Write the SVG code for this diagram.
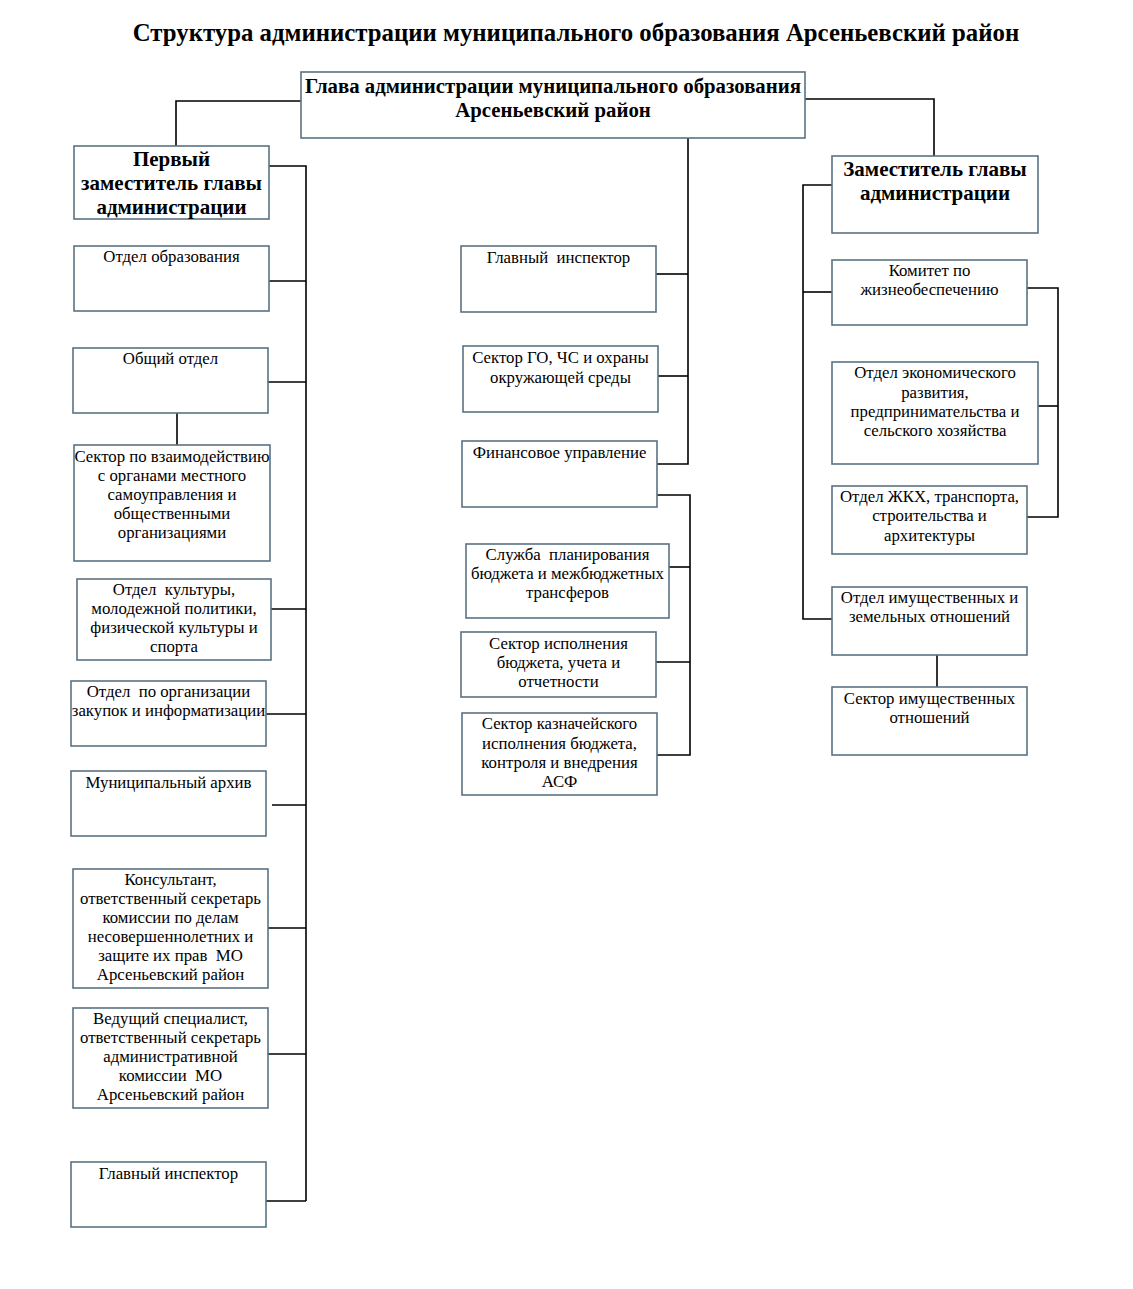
<svg xmlns="http://www.w3.org/2000/svg" width="1133" height="1289" viewBox="0 0 1133 1289">
<style>
.box{fill:#fff;stroke:#5b7282;stroke-width:1.6}
text{white-space:pre}
.t{font-family:"Liberation Serif","Times New Roman",serif;font-size:16.8px;text-anchor:middle;fill:#000}
.b{font-family:"Liberation Serif","Times New Roman",serif;font-weight:bold;font-size:21px;text-anchor:middle;fill:#000}
.h{font-family:"Liberation Serif","Times New Roman",serif;font-weight:bold;font-size:20.8px;text-anchor:middle;fill:#000}
.title{font-family:"Liberation Serif","Times New Roman",serif;font-weight:bold;font-size:24.8px;text-anchor:middle;fill:#000}
.c{fill:none;stroke:#000;stroke-width:1.6}
</style>
<rect width="1133" height="1289" fill="#fff"/>
<text class="title" x="576" y="41">Структура администрации муниципального образования Арсеньевский район</text>

<g id="connectors">
<path class="c" d="M301 101H176V146"/>
<path class="c" d="M805 99H934V156"/>
<path class="c" d="M688 138V464H657"/>
<path class="c" d="M269 166H306V1201"/>
<path class="c" d="M269 281H306"/>
<path class="c" d="M268 382H306"/>
<path class="c" d="M177 413V445"/>
<path class="c" d="M271 609H306"/>
<path class="c" d="M266 714H306"/>
<path class="c" d="M272 805H306"/>
<path class="c" d="M268 928H306"/>
<path class="c" d="M268 1054H306"/>
<path class="c" d="M266 1201H306"/>
<path class="c" d="M656 274H688"/>
<path class="c" d="M658 376H688"/>
<path class="c" d="M657 495H690V755H657"/>
<path class="c" d="M669 567H690"/>
<path class="c" d="M656 662H690"/>
<path class="c" d="M832 185H803V619H832"/>
<path class="c" d="M803 292H832"/>
<path class="c" d="M1027 288H1058V517H1027"/>
<path class="c" d="M1028 406H1058"/>
<path class="c" d="M937 655V687"/>
</g>

<g id="head"><rect class="box" x="301" y="72" width="504" height="66"/>
<text class="h" x="553" y="93">Глава администрации муниципального образования</text>
<text class="h" x="553" y="117">Арсеньевский район</text></g>

<g id="first-deputy"><rect class="box" x="74" y="146" width="195" height="73"/>
<text class="b" x="171.5" y="166">Первый</text>
<text class="b" x="171.5" y="190">заместитель главы</text>
<text class="b" x="171.5" y="214">администрации</text></g>

<g id="deputy"><rect class="box" x="832" y="156" width="206" height="77"/>
<text class="b" x="935" y="176">Заместитель главы</text>
<text class="b" x="935" y="200">администрации</text></g>

<g id="l1"><rect class="box" x="74" y="246" width="195" height="65"/>
<text class="t" x="171.5" y="262">Отдел образования</text></g>

<g id="l2"><rect class="box" x="73" y="348" width="195" height="65"/>
<text class="t" x="170.5" y="364">Общий отдел</text></g>

<g id="l3"><rect class="box" x="74" y="445" width="196" height="116"/>
<text class="t" x="172" y="462">Сектор по взаимодействию</text>
<text class="t" x="172" y="481">с органами местного</text>
<text class="t" x="172" y="500">самоуправления и</text>
<text class="t" x="172" y="519">общественными</text>
<text class="t" x="172" y="538">организациями</text></g>

<g id="l4"><rect class="box" x="77" y="579" width="194" height="81"/>
<text class="t" x="174" y="595">Отдел  культуры,</text>
<text class="t" x="174" y="614">молодежной политики,</text>
<text class="t" x="174" y="633">физической культуры и</text>
<text class="t" x="174" y="652">спорта</text></g>

<g id="l5"><rect class="box" x="71" y="681" width="195" height="65"/>
<text class="t" x="168.5" y="697">Отдел  по организации</text>
<text class="t" x="168.5" y="716">закупок и информатизации</text></g>

<g id="l6"><rect class="box" x="71" y="771" width="195" height="65"/>
<text class="t" x="168.5" y="788">Муниципальный архив</text></g>

<g id="l7"><rect class="box" x="73" y="869" width="195" height="119"/>
<text class="t" x="170.5" y="885">Консультант,</text>
<text class="t" x="170.5" y="904">ответственный секретарь</text>
<text class="t" x="170.5" y="923">комиссии по делам</text>
<text class="t" x="170.5" y="942">несовершеннолетних и</text>
<text class="t" x="170.5" y="961">защите их прав  МО</text>
<text class="t" x="170.5" y="980">Арсеньевский район</text></g>

<g id="l8"><rect class="box" x="73" y="1008" width="195" height="100"/>
<text class="t" x="170.5" y="1024">Ведущий специалист,</text>
<text class="t" x="170.5" y="1043">ответственный секретарь</text>
<text class="t" x="170.5" y="1062">административной</text>
<text class="t" x="170.5" y="1081">комиссии  МО</text>
<text class="t" x="170.5" y="1100">Арсеньевский район</text></g>

<g id="l9"><rect class="box" x="71" y="1162" width="195" height="65"/>
<text class="t" x="168.5" y="1179">Главный инспектор</text></g>

<g id="m1"><rect class="box" x="461" y="246" width="195" height="66"/>
<text class="t" x="558.5" y="263">Главный  инспектор</text></g>

<g id="m2"><rect class="box" x="463" y="346" width="195" height="66"/>
<text class="t" x="560.5" y="363">Сектор ГО, ЧС и охраны</text>
<text class="t" x="560.5" y="383">окружающей среды</text></g>

<g id="m3"><rect class="box" x="462" y="441" width="195" height="66"/>
<text class="t" x="559.5" y="458">Финансовое управление</text></g>

<g id="m4"><rect class="box" x="466" y="544" width="203" height="74"/>
<text class="t" x="567.5" y="560">Служба  планирования</text>
<text class="t" x="567.5" y="579">бюджета и межбюджетных</text>
<text class="t" x="567.5" y="598">трансферов</text></g>

<g id="m5"><rect class="box" x="461" y="632" width="195" height="65"/>
<text class="t" x="558.5" y="649">Сектор исполнения</text>
<text class="t" x="558.5" y="668">бюджета, учета и</text>
<text class="t" x="558.5" y="687">отчетности</text></g>

<g id="m6"><rect class="box" x="462" y="713" width="195" height="82"/>
<text class="t" x="559.5" y="729">Сектор казначейского</text>
<text class="t" x="559.5" y="749">исполнения бюджета,</text>
<text class="t" x="559.5" y="768">контроля и внедрения</text>
<text class="t" x="559.5" y="787">АСФ</text></g>

<g id="r1"><rect class="box" x="832" y="260" width="195" height="65"/>
<text class="t" x="929.5" y="276">Комитет по</text>
<text class="t" x="929.5" y="295">жизнеобеспечению</text></g>

<g id="r2"><rect class="box" x="832" y="362" width="206" height="102"/>
<text class="t" x="935" y="378">Отдел экономического</text>
<text class="t" x="935" y="398">развития,</text>
<text class="t" x="935" y="417">предпринимательства и</text>
<text class="t" x="935" y="436">сельского хозяйства</text></g>

<g id="r3"><rect class="box" x="832" y="486" width="195" height="68"/>
<text class="t" x="929.5" y="502">Отдел ЖКХ, транспорта,</text>
<text class="t" x="929.5" y="521">строительства и</text>
<text class="t" x="929.5" y="541">архитектуры</text></g>

<g id="r4"><rect class="box" x="832" y="587" width="195" height="68"/>
<text class="t" x="929.5" y="603">Отдел имущественных и</text>
<text class="t" x="929.5" y="622">земельных отношений</text></g>

<g id="r5"><rect class="box" x="832" y="687" width="195" height="68"/>
<text class="t" x="929.5" y="704">Сектор имущественных</text>
<text class="t" x="929.5" y="723">отношений</text></g>
</svg>
